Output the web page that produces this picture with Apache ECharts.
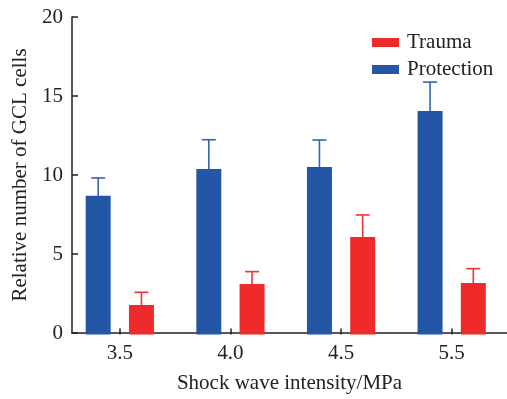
<!DOCTYPE html>
<html><head><meta charset="utf-8">
<script src="https://cdn.jsdelivr.net/npm/echarts@6/dist/echarts.min.js"></script>
<style>html,body{margin:0;padding:0;background:#fff}#c{width:507px;height:399px}</style>
</head><body><div id="c"></div>
<script>
const categories = ['3.5', '4.0', '4.5', '5.5'];
const protection = [8.74, 10.43, 10.55, 14.08];
const protectionErr = [1.12, 1.84, 1.70, 1.82];
const trauma = [1.86, 3.18, 6.14, 3.24];
const traumaErr = [0.80, 0.78, 1.39, 0.91];
const yTicks = [0, 5, 10, 15, 20];

const BLUE = '#2456A6', RED = '#EE2A2A';
const BLUE_ERR = '#3265B3', RED_ERR = '#EF3434';
const FONT = '"Liberation Serif", "DejaVu Serif", serif';
const FS = 21;
const BAR_W = 25, BAR_GAP = 0.73;
const groupW = BAR_W * 2 + BAR_W * BAR_GAP;
const offsets = [-(groupW / 2 - BAR_W / 2), (groupW / 2 - BAR_W / 2)];

function errSeries(name, vals, errs, color, idx) {
  return {
    type: 'custom', name: name + ' err', xAxisIndex: 0, yAxisIndex: 0, z: 3,
    data: vals.map((v, i) => [i, v, v + errs[i]]),
    renderItem: function (params, api) {
      const top = api.coord([api.value(0), api.value(2)]);
      const base = api.coord([api.value(0), api.value(1)]);
      const x = top[0] + offsets[idx];
      const cap = 7;
      return {
        type: 'group', children: [
          { type: 'line', shape: { x1: x, y1: base[1], x2: x, y2: top[1] }, style: { stroke: color, lineWidth: 1.6 } },
          { type: 'line', shape: { x1: x - cap, y1: top[1], x2: x + cap, y2: top[1] }, style: { stroke: color, lineWidth: 1.6 } }
        ]
      };
    }
  };
}

const chart = echarts.init(document.getElementById('c'), null, { renderer: 'canvas' });
chart.setOption({
  animation: false,
  textStyle: { fontFamily: FONT },
  grid: [
    { left: 64.5, top: 17, width: 452, bottom: 64.5 },
    { left: 72, top: 17, right: 0, bottom: 64.5 }
  ],
  legend: {
    orient: 'vertical', left: 367, top: 27, itemWidth: 27, itemHeight: 9, itemGap: 6,
    icon: 'rect', data: ['Trauma', 'Protection'],
    textStyle: { fontFamily: FONT, fontSize: FS, color: '#222', padding: [0, 0, 0, 3] }
  },
  xAxis: [
    {
      type: 'category', gridIndex: 0, data: categories,
      axisLine: { show: false },
      axisTick: { show: true, inside: true, alignWithLabel: true, length: 6, lineStyle: { color: '#222', width: 1.5 } },
      axisLabel: { fontFamily: FONT, fontSize: FS, color: '#222', margin: 8 }
    },
    {
      type: 'value', gridIndex: 1, min: 0, max: 1,
      name: 'Shock wave intensity/MPa', nameLocation: 'middle', nameGap: 40,
      nameTextStyle: { fontFamily: FONT, fontSize: FS, color: '#222' },
      axisLine: { show: true, lineStyle: { color: '#222', width: 1.5 } },
      axisTick: { show: false }, axisLabel: { show: false }, splitLine: { show: false }
    }
  ],
  yAxis: [
    { type: 'value', gridIndex: 0, min: yTicks[0], max: yTicks[yTicks.length - 1], interval: 5, show: false, splitLine: { show: false } },
    {
      type: 'value', gridIndex: 1, min: yTicks[0], max: yTicks[yTicks.length - 1], interval: 5,
      name: 'Relative number of GCL cells', nameLocation: 'middle', nameGap: 41,
      nameTextStyle: { fontFamily: FONT, fontSize: FS, color: '#222' },
      axisLine: { show: true, lineStyle: { color: '#222', width: 1.5 } },
      axisTick: { show: true, inside: true, length: 6, lineStyle: { color: '#222', width: 1.5 } },
      axisLabel: { fontFamily: FONT, fontSize: FS, color: '#222', margin: 9 },
      splitLine: { show: false }
    }
  ],
  series: [
    { name: 'Protection', type: 'bar', xAxisIndex: 0, yAxisIndex: 0, data: protection, barWidth: BAR_W, barGap: (BAR_GAP * 100) + '%', itemStyle: { color: BLUE } },
    { name: 'Trauma', type: 'bar', xAxisIndex: 0, yAxisIndex: 0, data: trauma, barWidth: BAR_W, barGap: (BAR_GAP * 100) + '%', itemStyle: { color: RED } },
    errSeries('Protection', protection, protectionErr, BLUE_ERR, 0),
    errSeries('Trauma', trauma, traumaErr, RED_ERR, 1)
  ]
});
</script></body></html>
